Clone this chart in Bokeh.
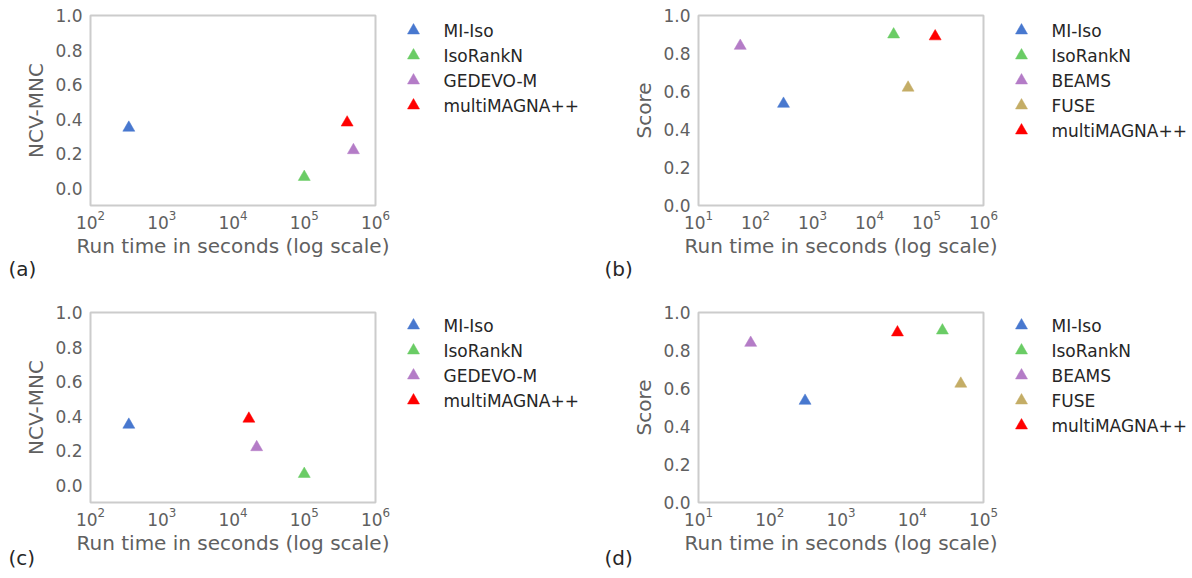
from bokeh.plotting import figure
from bokeh.models import FixedTicker, PrintfTickFormatter, Title, Range1d
from bokeh.core.properties import value
from bokeh.layouts import column, row
from bokeh.embed import file_html
from bokeh.resources import INLINE

# ---------------- data ----------------
methods_a = ["MI-Iso", "IsoRankN", "GEDEVO-M", "multiMAGNA++"]
time_a = [345, 1.0e5, 4.9e5, 4.0e5]
ncv_a = [0.35, 0.065, 0.22, 0.38]

methods_b = ["MI-Iso", "IsoRankN", "BEAMS", "FUSE", "multiMAGNA++"]
time_b = [310, 2.65e4, 54, 4.75e4, 1.42e5]
score_b = [0.535, 0.90, 0.84, 0.62, 0.89]

methods_c = ["MI-Iso", "IsoRankN", "GEDEVO-M", "multiMAGNA++"]
time_c = [345, 1.0e5, 2.15e4, 1.67e4]
ncv_c = [0.35, 0.065, 0.22, 0.385]

methods_d = ["MI-Iso", "IsoRankN", "BEAMS", "FUSE", "multiMAGNA++"]
time_d = [313, 2.65e4, 54, 4.8e4, 6.2e3]
score_d = [0.535, 0.905, 0.84, 0.625, 0.895]

ncv_ticks = [0.0, 0.2, 0.4, 0.6, 0.8, 1.0]
score_ticks = [0.0, 0.2, 0.4, 0.6, 0.8, 1.0]
xticks_ac = [1e2, 1e3, 1e4, 1e5, 1e6]
xticks_b = [1e1, 1e2, 1e3, 1e4, 1e5, 1e6]
xticks_d = [1e1, 1e2, 1e3, 1e4, 1e5]

colors = {"MI-Iso": "#4878CF", "IsoRankN": "#6ACC65", "GEDEVO-M": "#B47CC7",
          "BEAMS": "#B47CC7", "FUSE": "#C4AD66", "multiMAGNA++": "#FF0000"}

# ---------------- layout / style ----------------
FIG_W, FIG_H = 596, 289
FRAME_W, FRAME_H = 285, 190
RIGHT_PAD = 24          # room right of the frame for the last tick label
LEG_MARKER_DX = 38      # legend marker centre, measured from the frame's right edge
LEG_TEXT_DX = 68        # legend text start, measured from the frame's right edge
ROW_H = 25
TICK_COLOR = "#606060"
FONT = "DejaVu Sans"


def make_panel(methods, times, vals, xr, yr, yticks, xticks, ylabel, tag,
               frame_left, frame_top, tag_standoff, first_row_y):
    p = figure(x_axis_type="log", x_range=Range1d(*xr), y_range=Range1d(*yr),
               frame_width=FRAME_W, frame_height=FRAME_H,
               min_border_left=frame_left, min_border_top=frame_top,
               min_border_right=RIGHT_PAD,
               min_border_bottom=FIG_H - frame_top - FRAME_H,
               output_backend="svg", toolbar_location=None)
    p.background_fill_color = "white"
    p.border_fill_color = "white"
    p.outline_line_color = "#CCCCCC"
    p.outline_line_width = 2
    p.xgrid.visible = False
    p.ygrid.visible = False

    for ax in (p.xaxis[0], p.yaxis[0]):
        ax.axis_line_color = None
        ax.major_tick_line_color = None
        ax.minor_tick_line_color = None
        ax.major_tick_out = 0
        ax.major_tick_in = 0
        ax.minor_tick_out = 0
        ax.major_label_text_font = FONT
        ax.major_label_text_font_size = "17px"
        ax.major_label_text_color = TICK_COLOR
        ax.axis_label_text_font = FONT
        ax.axis_label_text_font_size = "20px"
        ax.axis_label_text_font_style = "normal"
        ax.axis_label_text_color = TICK_COLOR

    p.xaxis[0].ticker = FixedTicker(ticks=xticks, minor_ticks=[])
    p.xaxis[0].axis_label = "Run time in seconds (log scale)"
    p.xaxis[0].major_label_standoff = 4
    p.xaxis[0].axis_label_standoff = 2
    p.yaxis[0].ticker = FixedTicker(ticks=yticks, minor_ticks=[])
    p.yaxis[0].formatter = PrintfTickFormatter(format="%.1f")
    p.yaxis[0].axis_label = ylabel
    p.yaxis[0].major_label_standoff = 8
    p.yaxis[0].axis_label_standoff = 4

    for m, t, v in zip(methods, times, vals):
        p.scatter([t], [v], marker="triangle", size=12,
                  fill_color=colors[m], line_color=colors[m], line_width=0.5)

    t = Title(text=tag, align="left", offset=8 - frame_left, vertical_align="top",
              text_font=FONT, text_font_size="20px", text_font_style="normal",
              text_color="#262626", standoff=tag_standoff)
    p.add_layout(t, "below")

    # legend drawn in a companion figure to the right of the panel
    # (its frame is aligned with the panel's frame, so its y range spans the frame rows)
    main_w = frame_left + FRAME_W + RIGHT_PAD
    leg_w = FIG_W - main_w
    lg = figure(width=leg_w, height=FIG_H, x_range=Range1d(0, leg_w),
                y_range=Range1d(frame_top + FRAME_H, frame_top), min_border=0,
                x_axis_location=None, y_axis_location=None,
                output_backend="svg", toolbar_location=None)
    lg.outline_line_color = None
    lg.background_fill_color = "white"
    lg.border_fill_color = "white"
    lg.xgrid.visible = False
    lg.ygrid.visible = False
    n = len(methods)
    ys = [first_row_y + k * ROW_H for k in range(n)]
    mx = [LEG_MARKER_DX - RIGHT_PAD] * n
    tx = [LEG_TEXT_DX - RIGHT_PAD] * n
    lg.scatter(mx, ys, marker="triangle", size=12,
               fill_color=[colors[m] for m in methods],
               line_color=[colors[m] for m in methods], line_width=0.5)
    lg.text(tx, ys, text=list(methods), text_font=value(FONT),
            text_font_size=value("17px"), text_color="#262626",
            text_baseline="middle", text_align="left")
    return row(p, lg)


pa = make_panel(methods_a, time_a, ncv_a, (1e2, 1e6), (-0.1, 1.0), ncv_ticks, xticks_ac,
                "NCV-MNC", "(a)", 90, 15, -8, 30)
pb = make_panel(methods_b, time_b, score_b, (1e1, 1e6), (0.0, 1.0), score_ticks, xticks_b,
                "Score", "(b)", 102, 15, -8, 30)
pc = make_panel(methods_c, time_c, ncv_c, (1e2, 1e6), (-0.1, 1.0), ncv_ticks, xticks_ac,
                "NCV-MNC", "(c)", 90, 23, -24, 36)
pd = make_panel(methods_d, time_d, score_d, (1e1, 1e5), (0.0, 1.0), score_ticks, xticks_d,
                "Score", "(d)", 102, 23, -24, 36)

layout = column(row(pa, pb), row(pc, pd))
open("out.html", "w").write(file_html(layout, INLINE))
